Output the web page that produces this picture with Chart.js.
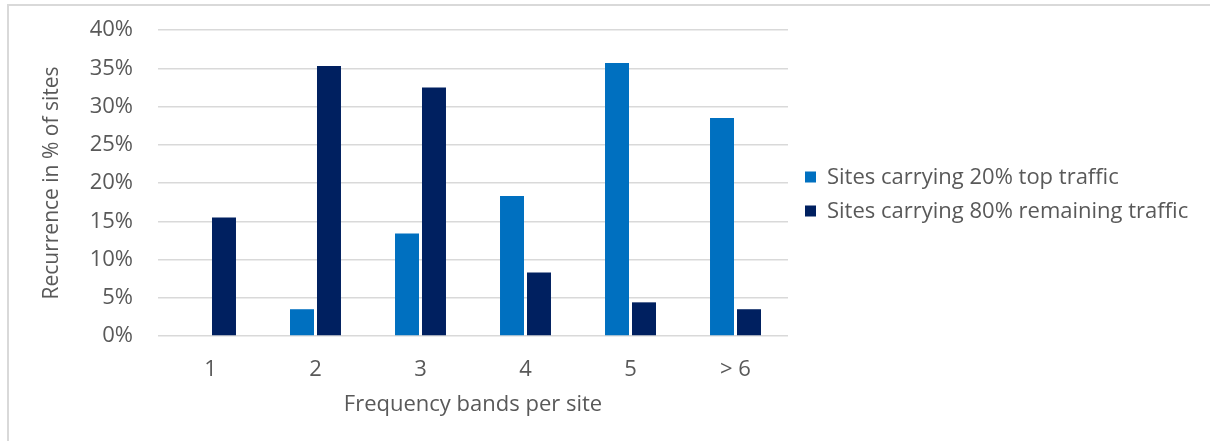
<!DOCTYPE html>
<html>
<head>
<meta charset="utf-8">
<script src="https://cdn.jsdelivr.net/npm/chart.js@4/dist/chart.umd.min.js"></script>
<style>
  html, body { margin: 0; padding: 0; background: #ffffff; }
  #wrap { position: relative; width: 1210px; height: 441px; overflow: hidden; }
  #frame { position: absolute; left: 7px; top: 4px; right: -10px; bottom: -10px;
           border-top: 2px solid #d9d9d9; border-left: 2px solid #d9d9d9; }
  #c { position: absolute; left: 0; top: 0; }
</style>
</head>
<body>
<div id="wrap">
  <div id="frame"></div>
  <canvas id="c" width="1210" height="441"></canvas>
</div>
<script>
// Share of sites (%) by number of frequency bands per site
const categories = ['1', '2', '3', '4', '5', '> 6'];
const topTraffic = [0, 3.5, 13.4, 18.3, 35.7, 28.5];
const remainingTraffic = [15.5, 35.3, 32.5, 8.3, 4.4, 3.5];
const seriesNames = ['Sites carrying 20% top traffic', 'Sites carrying 80% remaining traffic'];
const yTicks = [0, 5, 10, 15, 20, 25, 30, 35, 40];

const TEXT = '#595959';
const FONT = 'Open Sans';

// Legend drawn to the right of the plot, square markers with labels
const sideLegend = {
  id: 'sideLegend',
  afterDraw(chart) {
    const ctx = chart.ctx;
    const area = chart.chartArea;
    const x0 = area.right + 17;
    const rows = [area.top + 147, area.top + 181];
    ctx.save();
    ctx.font = '22px "' + FONT + '"';
    ctx.textBaseline = 'middle';
    ctx.textAlign = 'left';
    chart.data.datasets.forEach((ds, i) => {
      const y = rows[i];
      ctx.fillStyle = ds.backgroundColor;
      ctx.fillRect(x0, y - 5.5, 11, 11);
      ctx.fillStyle = TEXT;
      ctx.fillText(ds.label, x0 + 22, y + 1);
    });
    ctx.restore();
  }
};

new Chart(document.getElementById('c'), {
  type: 'bar',
  data: {
    labels: categories,
    datasets: [
      { label: seriesNames[0], data: topTraffic, backgroundColor: '#0070C0' },
      { label: seriesNames[1], data: remainingTraffic, backgroundColor: '#002060' }
    ]
  },
  options: {
    responsive: false,
    animation: false,
    events: [],
    layout: { padding: { left: 20, right: 422, top: 30, bottom: 0 } },
    datasets: {
      bar: { categoryPercentage: 0.514, barPercentage: 0.889 }
    },
    plugins: {
      legend: { display: false },
      tooltip: { enabled: false }
    },
    scales: {
      x: {
        afterFit(scale) {
          scale.height = 105;
          scale.paddingLeft = 0;
          scale.paddingRight = 0;
        },
        grid: { display: false, drawTicks: false },
        border: { display: false },
        ticks: { color: TEXT, font: { family: FONT, size: 22 }, padding: 21 },
        title: {
          display: true, text: 'Frequency bands per site', color: TEXT,
          font: { family: FONT, size: 22 }, padding: { top: 0, bottom: 23 }
        }
      },
      y: {
        min: 0, max: 40,
        afterFit(scale) {
          scale.width = 138;
          scale.paddingTop = 0;
          scale.paddingBottom = 0;
        },
        afterBuildTicks(scale) { scale.ticks = yTicks.map(v => ({ value: v })); },
        grid: { color: '#d9d9d9', lineWidth: 1.5, drawTicks: false },
        border: { display: false },
        ticks: {
          color: TEXT, font: { family: FONT, size: 22 }, padding: 25,
          callback: v => v + '%'
        },
        title: {
          display: true, text: 'Recurrence in % of sites', color: TEXT,
          font: { family: FONT, size: 21 }, padding: { top: 19, bottom: 0 }
        }
      }
    }
  },
  plugins: [sideLegend]
});
</script>
</body>
</html>
